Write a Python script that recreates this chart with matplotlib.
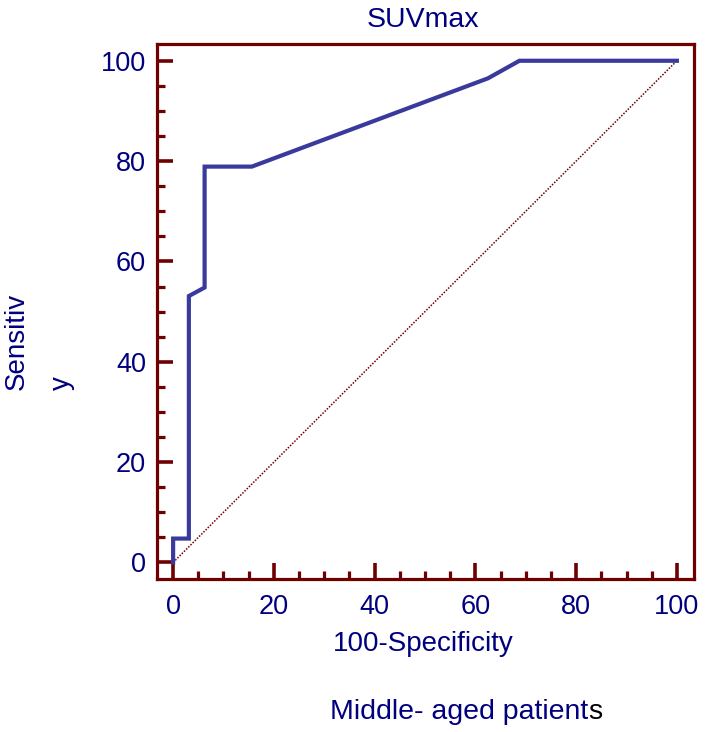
import matplotlib.pyplot as plt
from matplotlib.ticker import MultipleLocator

# ROC curve points (100-Specificity, Sensitivity)
fpr = [0, 0, 3.125, 3.125, 6.25, 6.25, 15.625, 62.5, 68.75, 100]
tpr = [0, 4.76, 4.76, 53.1, 54.8, 78.9, 78.9, 96.5, 100, 100]
diag = [0, 100]

frame_col = "#6E0000"
curve_col = "#393A9C"
text_col = "#00007F"

plt.rcParams['font.family'] = ['Liberation Sans', 'DejaVu Sans']

W, H = 707, 732
fig = plt.figure(figsize=(W / 100, H / 100), dpi=100)
ax = fig.add_axes([156.5 / W, 1 - 578.5 / H, (693.5 - 156.5) / W, (578.5 - 44.2) / H])

ax.plot(diag, diag, color=frame_col, lw=1.1, ls=(0, (1, 1)))
ax.plot(fpr, tpr, color=curve_col, lw=3, solid_joinstyle='miter')

ax.set_xlim(-3.3, 103.3)
ax.set_ylim(-3.2, 103.3)

for s in ax.spines.values():
    s.set_color(frame_col)
    s.set_linewidth(2.3)

ax.xaxis.set_major_locator(MultipleLocator(20))
ax.yaxis.set_major_locator(MultipleLocator(20))
ax.xaxis.set_minor_locator(MultipleLocator(5))
ax.yaxis.set_minor_locator(MultipleLocator(5))
ax.tick_params(which='major', direction='in', length=11.5, width=2.6, color=frame_col,
               labelcolor=text_col, labelsize=19.5)
ax.tick_params(which='minor', direction='in', length=5.5, width=2.3, color=frame_col)
ax.tick_params(axis='x', which='major', pad=11)
ax.tick_params(axis='y', which='major', pad=7.5)

fig.text(423 / W, 1 - 27 / H, "SUVmax", color=text_col, fontsize=20.5,
         ha='center', va='baseline')
fig.text(423 / W, 1 - 651 / H, "100-Specificity", color=text_col, fontsize=20,
         ha='center', va='baseline')
fig.text(17 / W, 1 - 341 / H, "Sensitiv", color=text_col, fontsize=20,
         rotation=90, ha='center', va='center')
fig.text(62 / W, 1 - 383 / H, "y", color=text_col, fontsize=20,
         rotation=90, ha='center', va='center')

t1 = fig.text(330 / W, 1 - 719 / H, "Middle- aged patient", color=text_col,
              fontsize=20.5, ha='left', va='baseline')
fig.canvas.draw()
bb = t1.get_window_extent()
fig.text(bb.x1 / W, 1 - 719 / H, "s", color="black", fontsize=20.5,
         ha='left', va='baseline')

fig.savefig("out.png", dpi=100)
